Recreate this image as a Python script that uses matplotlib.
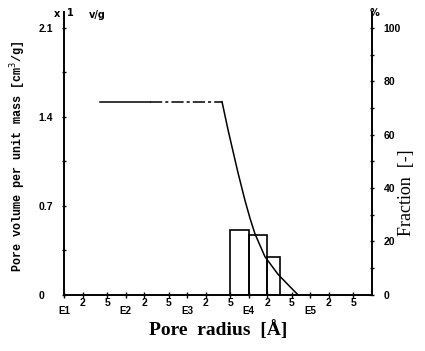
import matplotlib.pyplot as plt
import numpy as np
from matplotlib.ticker import FixedLocator, FixedFormatter

# cumulative pore volume curve (radius in A, volume in cm3/g)
flat_r = [38, 250]
flat_v = [1.52, 1.52]
dash_r = [250, 3670]
dash_v = [1.52, 1.52]
curve_r = [3670, 4590, 6680, 8700, 10500, 12600, 18300, 29800, 45000, 63000]
curve_v = [1.52, 1.30, 0.96, 0.74, 0.60, 0.48, 0.30, 0.162, 0.072, 0.0]

# fraction histogram (bin edges in A, fraction in %)
bin_edges = [5000, 10000, 20000, 32000]
fractions = [24.4, 22.5, 14.2]

left_ticks = [0, 0.7, 1.4, 2.1]
left_labels = ['0', '0.7', '1.4', '2.1']
right_ticks = [0, 20, 40, 60, 80, 100]
decades = [1e1, 1e2, 1e3, 1e4, 1e5]
decade_labels = ['E1', 'E2', 'E3', 'E4', 'E5']

fig = plt.figure(figsize=(4.25, 3.51), dpi=100)
ax = fig.add_axes([0.151, 0.16, 0.724, 0.806])
ax2 = ax.twinx()

ax.plot(flat_r, flat_v, color='black', lw=1.1)
ax.plot(dash_r, dash_v, color='black', lw=1.1, ls=(0, (8, 2, 2, 2)))
ax.plot(curve_r, curve_v, color='black', lw=1.1)

widths = np.diff(bin_edges)
ax2.bar(bin_edges[:-1], fractions, width=widths, align='edge', fill=False,
        edgecolor='black', lw=1.2)

ax.set_xscale('log')
ax.set_xlim(10, 1e6)
ax.set_ylim(0, 2.226)
ax2.set_ylim(0, 2.226 / 2.1 * 100)

ax.spines['top'].set_visible(False)
ax2.spines['top'].set_visible(False)
for a in (ax, ax2):
    for s in a.spines.values():
        s.set_linewidth(1.2)

# x ticks
minor_pos = []
minor_lab = []
for d in decades:
    for m in (2, 5):
        minor_pos.append(d * m)
        minor_lab.append(str(m))
ax.xaxis.set_major_locator(FixedLocator(decades))
ax.xaxis.set_major_formatter(FixedFormatter(decade_labels))
ax.xaxis.set_minor_locator(FixedLocator(minor_pos))
ax.xaxis.set_minor_formatter(FixedFormatter(minor_lab))
ax.tick_params(axis='x', which='major', direction='inout', length=4, width=1,
               pad=6, labelsize=7)
ax.tick_params(axis='x', which='minor', direction='inout', length=4, width=1,
               pad=0.5, labelsize=7.5)
for lbl in ax.get_xticklabels(which='both'):
    lbl.set_fontweight('bold')
    lbl.set_family('Liberation Sans')

# left y ticks
ax.set_yticks(left_ticks)
ax.set_yticklabels(left_labels, fontsize=7.5, fontweight='bold',
                   family='Liberation Sans', ha='left')
ax.set_yticks([0.35, 1.05, 1.75], minor=True)
ax.tick_params(axis='y', which='both', direction='inout', length=3, width=1, pad=17)

# right y ticks
ax2.set_yticks(right_ticks)
ax2.set_yticklabels([str(t) for t in right_ticks], fontsize=7.5,
                    fontweight='bold', family='Liberation Sans')
ax2.set_yticks([10, 30, 50, 70, 90], minor=True)
ax2.tick_params(axis='y', which='both', direction='inout', length=3, width=1, pad=7)

ax.set_ylabel('Pore volume per unit mass [cm$^3$/g]', family='Liberation Mono',
              fontweight='bold', fontsize=8.5)
ax.yaxis.set_label_coords(-0.117, 0.49)
ax.set_xlabel('Pore  radius  [Å]', family='Liberation Serif', fontweight='bold',
              fontsize=14)
ax.xaxis.set_label_coords(0.5, -0.088)
ax2.set_ylabel('Fraction  [-]', family='Liberation Serif', fontsize=13)
ax2.yaxis.set_label_coords(1.085, 0.36)

fig.text(57 / 425, 1 - 14 / 351, 'x', fontsize=7, fontweight='bold',
         ha='center', va='center')
fig.text(70 / 425, 1 - 13 / 351, '1', fontsize=7, fontweight='bold',
         ha='center', va='center')
fig.text(97 / 425, 1 - 15 / 351, 'v/g', fontsize=7, fontweight='bold',
         ha='center', va='center')
fig.text(375 / 425, 1 - 13 / 351, '%', fontsize=7, fontweight='bold',
         ha='center', va='center')

fig.savefig('out.png', dpi=100)
